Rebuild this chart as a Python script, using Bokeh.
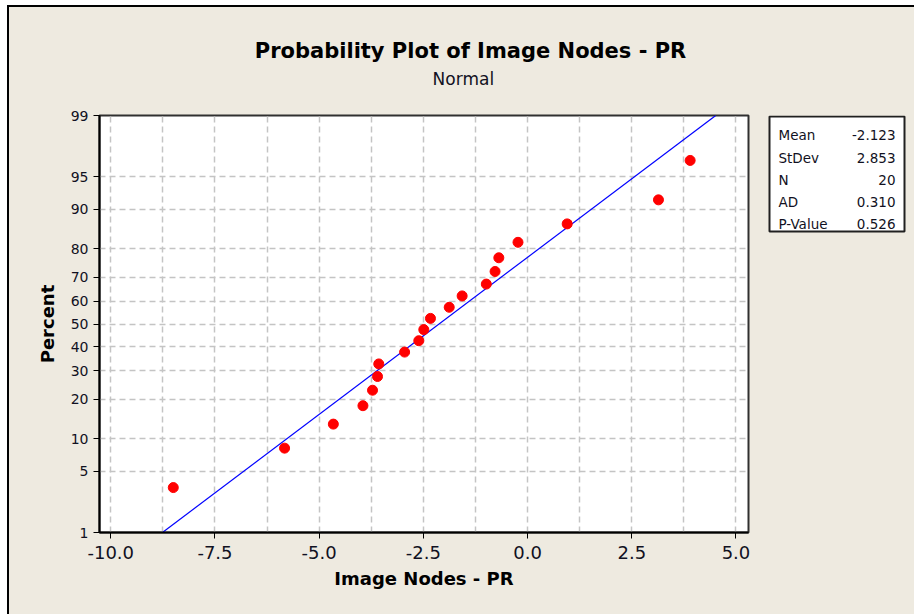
from statistics import NormalDist
from bokeh.plotting import figure
from bokeh.layouts import row
from bokeh.models import (Range1d, FixedTicker, CustomJSTickFormatter, Title, ColumnDataSource)
from bokeh.core.properties import value
from bokeh.embed import file_html
from bokeh.resources import INLINE

# ---- data ----
image_nodes_pr = [-8.50, -5.83, -4.66, -3.95, -3.72, -3.60, -3.57, -2.95, -2.61, -2.49,
                  -2.33, -1.88, -1.57, -0.99, -0.78, -0.69, -0.23, 0.95, 3.14, 3.90]
percent = [3.4, 8.3, 13.2, 18.1, 23.0, 27.9, 32.8, 37.7, 42.6, 47.5,
           52.5, 57.4, 62.3, 67.2, 72.1, 77.0, 81.9, 86.8, 91.7, 96.6]
y_tick_percents = [1, 5, 10, 20, 30, 40, 50, 60, 70, 80, 90, 95, 99]
y_grid_percents = [5, 10, 20, 30, 40, 50, 60, 70, 80, 90, 95]
x_tick_values = [-10.0, -7.5, -5.0, -2.5, 0.0, 2.5, 5.0]
x_grid_values = [-10.0, -8.75, -7.5, -6.25, -5.0, -3.75, -2.5, -1.25, 0.0, 1.25, 2.5, 3.75, 5.0]
stat_names = ["Mean", "StDev", "N", "AD", "P-Value"]
stat_values = ["-2.123", "2.853", "20", "0.310", "0.526"]
fit_mean = -2.123
fit_stdev = 2.853
fit_percent_range = [1, 99]

nd = NormalDist()
def z(p):
    return nd.inv_cdf(p / 100.0)

BG = "#EEEAE0"
FONT = "DejaVu Sans"
TXT = "#111122"

# page geometry (px of the whole 914x614 window)
OX, OY = 9, 7            # figures start here (white margin + 2px black line)
FL, FR, FT, FB = 99, 748, 115, 532
SPLIT = 760              # main figure | stats panel
W, H = 914, 614

main_w = SPLIT - OX
main_h = H - OY
p = figure(width=main_w, height=main_h, output_backend="svg", toolbar_location=None,
           x_range=Range1d(-10.27, 5.30),
           y_range=Range1d(z(fit_percent_range[0]), z(fit_percent_range[1])),
           min_border_left=FL - OX, min_border_right=SPLIT - FR,
           min_border_top=FT - OY, min_border_bottom=H - FB)
p.background_fill_color = "white"
p.border_fill_color = BG
p.outline_line_color = "#303030"
p.outline_line_width = 2

# titles (index 0 in "above" is nearest the frame)
sub_w = 3.636 * 17
title_w = 20.54 * 21
p.add_layout(Title(text="Normal", align="left", offset=463 - FL - sub_w / 2,
                   text_font=FONT, text_font_size="17px", text_font_style="normal",
                   text_color=TXT, standoff=54), "above")
p.add_layout(Title(text="Probability Plot of Image Nodes - PR", align="left",
                   offset=470 - FL - title_w / 2, text_font=FONT, text_font_size="21px",
                   text_font_style="bold", text_color="black", standoff=-46), "above")

# axes
p.xaxis.ticker = FixedTicker(ticks=x_tick_values)
p.xaxis.formatter = CustomJSTickFormatter(code="return tick.toFixed(1);")
p.yaxis.ticker = FixedTicker(ticks=[z(v) for v in y_tick_percents])
p.yaxis.formatter = CustomJSTickFormatter(
    args=dict(zs=[z(v) for v in y_tick_percents], labs=[str(v) for v in y_tick_percents]),
    code="""let b = 0;
for (let i = 0; i < zs.length; i++) { if (Math.abs(zs[i]-tick) < Math.abs(zs[b]-tick)) b = i; }
return labs[b];""")
for ax in (p.xaxis, p.yaxis):
    ax.axis_line_width = 2
    ax.axis_line_color = "black"
    ax.major_tick_line_color = "black"
    ax.major_tick_line_width = 1
    ax.major_tick_out = 6
    ax.major_tick_in = 0
    ax.minor_tick_line_color = None
    ax.major_label_text_font = FONT
    ax.major_label_text_color = TXT
    ax.axis_label_text_font = FONT
    ax.axis_label_text_font_size = "18px"
    ax.axis_label_text_font_style = "bold"
    ax.axis_label_text_color = "black"
p.xaxis.major_label_text_font_size = "18px"
p.yaxis.major_label_text_font_size = "14px"
p.xaxis.axis_label = "Image Nodes - PR"
p.yaxis.axis_label = "Percent"
p.xaxis.major_label_standoff = 7
p.yaxis.major_label_standoff = 5
p.xaxis.axis_label_standoff = 6
p.yaxis.axis_label_standoff = 10

# grids
p.xgrid.ticker = FixedTicker(ticks=x_grid_values)
p.ygrid.ticker = FixedTicker(ticks=[z(v) for v in y_grid_percents])
for g in (p.xgrid, p.ygrid):
    g.grid_line_color = "#C4C4C4"
    g.grid_line_dash = "6 4"
    g.grid_line_width = 1.5

# fitted line
fit_x = [fit_mean + fit_stdev * z(v) for v in fit_percent_range]
fit_y = [z(v) for v in fit_percent_range]
p.line(fit_x, fit_y, line_color="#0000FF", line_width=1.2)

# points
src = ColumnDataSource(dict(x=image_nodes_pr, y=[z(v) for v in percent]))
p.scatter("x", "y", source=src, size=10, fill_color="#FF0000", line_color="#FF0000")

# ---- stats panel (pixel-space figure; its frame is aligned with the main frame) ----
sw = W - SPLIT
sh = H - OY
s = figure(width=sw, height=sh, output_backend="svg", toolbar_location=None,
           x_range=Range1d(SPLIT, W), y_range=Range1d(FB, FT),
           x_axis_location=None, y_axis_location=None,
           min_border=0, min_border_top=FT - OY, min_border_bottom=H - FB)
s.grid.visible = False
s.outline_line_color = None
s.background_fill_color = BG
s.border_fill_color = BG
s.quad(left=[769], right=[904], top=[116], bottom=[231],
       fill_color="white", line_color="#202020", line_width=2)
row_base = [134.5, 157, 179, 201.5, 223.5]
s.text(x=[778] * len(stat_names), y=row_base, text=stat_names,
       text_font=value(FONT), text_font_size="13.5px", text_color=TXT,
       text_align="left", text_baseline="alphabetic")
s.text(x=[895] * len(stat_values), y=row_base, text=stat_values,
       text_font=value(FONT), text_font_size="13.5px", text_color=TXT,
       text_align="right", text_baseline="alphabetic")

layout = row(p, s, margin=(5, 0, 0, 7), spacing=0,
             styles={"border-top": "2px solid black", "border-left": "2px solid black",
                     "background-color": BG})

open("out.html", "w").write(file_html(layout, INLINE))
